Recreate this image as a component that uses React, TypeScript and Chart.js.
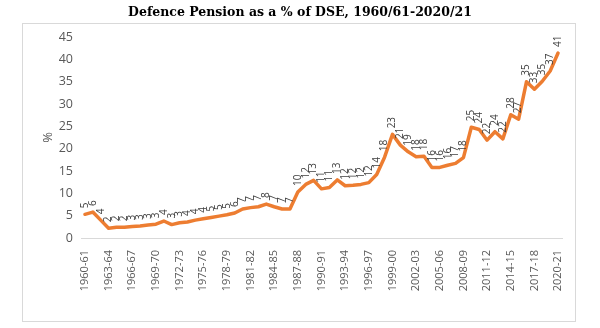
import { useEffect, useRef } from "react";
import { Chart, registerables } from "chart.js";

Chart.register(...registerables);

const chartTitle = "Defence Pension as a % of DSE, 1960/61-2020/21";
const yAxisTitle = "%";

const categories = [
  "1960-61", "1961-62", "1962-63", "1963-64", "1964-65", "1965-66", "1966-67", "1967-68", "1968-69", "1969-70",
  "1970-71", "1971-72", "1972-73", "1973-74", "1974-75", "1975-76", "1976-77", "1977-78", "1978-79", "1979-80",
  "1980-81", "1981-82", "1982-83", "1983-84", "1984-85", "1985-86", "1986-87", "1987-88", "1988-89", "1989-90",
  "1990-91", "1991-92", "1992-93", "1993-94", "1994-95", "1995-96", "1996-97", "1997-98", "1998-99", "1999-00",
  "2000-01", "2001-02", "2002-03", "2003-04", "2004-05", "2005-06", "2006-07", "2007-08", "2008-09", "2009-10",
  "2010-11", "2011-12", "2012-13", "2013-14", "2014-15", "2015-16", "2016-17", "2017-18", "2018-19", "2019-20",
  "2020-21",
];

const pensionShare = [
  5.3, 5.8, 4.0, 2.2, 2.4, 2.4, 2.6, 2.7, 2.9, 3.1,
  3.8, 3.0, 3.4, 3.6, 4.0, 4.3, 4.6, 4.9, 5.2, 5.6,
  6.5, 6.8, 7.0, 7.6, 7.0, 6.5, 6.5, 10.3, 12.0, 12.9,
  11.0, 11.3, 13.0, 11.7, 11.8, 12.0, 12.4, 14.2, 18.1, 23.2,
  20.8, 19.3, 18.2, 18.3, 15.8, 15.8, 16.3, 16.7, 18.0, 24.8,
  24.3, 21.9, 23.8, 22.2, 27.6, 26.6, 35.0, 33.3, 35.1, 37.4,
  41.4,
];

const yMin = 0;
const yMax = 45;
const yStep = 5;

const framePlugin = {
  id: "frameAndTitle",
  beforeDraw(chart: any) {
    const ctx = chart.ctx;
    ctx.save();
    ctx.fillStyle = "#ffffff";
    ctx.fillRect(0, 0, chart.width, chart.height);
    ctx.strokeStyle = "#d9d9d9";
    ctx.lineWidth = 1;
    ctx.strokeRect(22.5, 23.5, 553, 298);
    ctx.fillStyle = "#000000";
    ctx.font = 'bold 12.5px "DejaVu Serif"';
    ctx.textAlign = "center";
    ctx.textBaseline = "middle";
    ctx.fillText(chartTitle, 300, 13);
    ctx.restore();
  },
};

const pointLabelPlugin = {
  id: "pointLabels",
  afterDatasetsDraw(chart: any) {
    const ctx = chart.ctx;
    const meta = chart.getDatasetMeta(0);
    ctx.save();
    ctx.font = '10px "Open Sans"';
    ctx.fillStyle = "#404040";
    ctx.textAlign = "left";
    ctx.textBaseline = "middle";
    meta.data.forEach((pt: any, i: number) => {
      const v = pensionShare[i];
      ctx.save();
      ctx.translate(pt.x, pt.y - 6);
      ctx.rotate(-Math.PI / 2);
      ctx.fillText(String(Math.round(v)), 0, 0);
      ctx.restore();
    });
    ctx.restore();
  },
};

export default function App() {
  const canvasRef = useRef<HTMLCanvasElement | null>(null);

  useEffect(() => {
    document.body.style.margin = "0";
    const canvas = canvasRef.current;
    if (!canvas) return;
    const chart = new Chart(canvas, {
      type: "line",
      data: {
        labels: categories,
        datasets: [
          {
            data: pensionShare,
            borderColor: "#ED7D31",
            backgroundColor: "#ED7D31",
            borderWidth: 3.5,
            pointRadius: 0,
            tension: 0,
            fill: false,
            borderJoinStyle: "round",
            borderCapStyle: "round",
          },
        ],
      },
      options: {
        animation: false,
        responsive: false,
        maintainAspectRatio: false,
        layout: { padding: { left: 22, right: 38, top: 37, bottom: 0 } },
        plugins: {
          legend: { display: false },
          tooltip: { enabled: false },
          title: { display: false },
        },
        scales: {
          x: {
            type: "category",
            offset: true,
            grid: { display: false, drawTicks: false },
            border: { display: true, color: "#d9d9d9", width: 1 },
            ticks: {
              autoSkip: false,
              maxRotation: 90,
              minRotation: 90,
              padding: 12,
              color: "#595959",
              font: { family: "Open Sans", size: 11 },
              callback: (_v: any, i: number) => (i % 3 === 0 ? categories[i] : ""),
            },
            afterFit: (s: any) => {
              s.height = 90;
            },
          },
          y: {
            min: yMin,
            max: yMax,
            grid: { display: false, drawTicks: false },
            border: { display: false },
            ticks: {
              stepSize: yStep,
              padding: 8,
              color: "#595959",
              font: { family: "Open Sans", size: 12.5 },
            },
            title: {
              display: true,
              text: yAxisTitle,
              color: "#595959",
              font: { family: "Open Sans", size: 13 },
              padding: { top: 18, bottom: 0 },
            },
            afterFit: (s: any) => {
              s.width = 59;
            },
          },
        },
      },
      plugins: [framePlugin, pointLabelPlugin],
    });
    return () => chart.destroy();
  }, []);

  return (
    <div style={{ position: "absolute", left: 0, top: 0, width: 600, height: 328 }}>
      <canvas ref={canvasRef} width={600} height={328} style={{ width: 600, height: 328, display: "block" }} />
    </div>
  );
}
